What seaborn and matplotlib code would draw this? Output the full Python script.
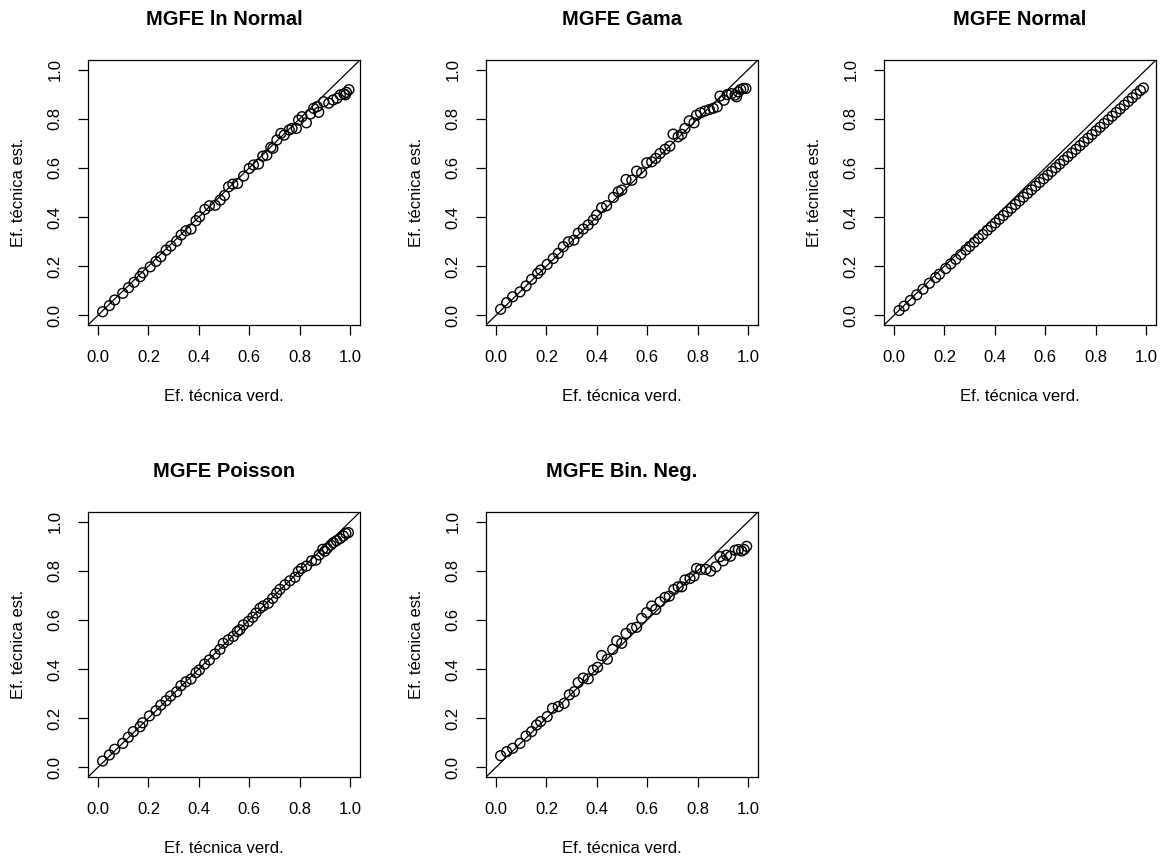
import matplotlib
matplotlib.use("Agg")
import matplotlib.pyplot as plt
import seaborn as sns
import pandas as pd

titles = ["MGFE ln Normal", "MGFE Gama", "MGFE Normal", "MGFE Poisson", "MGFE Bin. Neg."]
x_label = "Ef. técnica verd."
y_label = "Ef. técnica est."
tick_values = [0.0, 0.2, 0.4, 0.6, 0.8, 1.0]
tick_labels = ["0.0", "0.2", "0.4", "0.6", "0.8", "1.0"]

x_lnnormal = [0.018, 0.045, 0.066, 0.098, 0.121, 0.143, 0.167, 0.178, 0.207, 0.230, 0.249, 0.270,
              0.289, 0.312, 0.330, 0.349, 0.369, 0.389, 0.403, 0.424, 0.442, 0.465, 0.485, 0.502,
              0.518, 0.535, 0.554, 0.578, 0.600, 0.617, 0.637, 0.654, 0.670, 0.686, 0.694, 0.710,
              0.726, 0.739, 0.759, 0.770, 0.787, 0.796, 0.810, 0.827, 0.843, 0.856, 0.870, 0.876,
              0.896, 0.916, 0.933, 0.949, 0.962, 0.976, 0.982, 0.986, 0.996]
y_lnnormal = [0.014, 0.039, 0.062, 0.089, 0.112, 0.134, 0.157, 0.173, 0.197, 0.219, 0.238, 0.265,
              0.282, 0.302, 0.327, 0.344, 0.351, 0.385, 0.401, 0.431, 0.446, 0.448, 0.469, 0.488,
              0.523, 0.534, 0.537, 0.567, 0.598, 0.612, 0.616, 0.648, 0.652, 0.684, 0.680, 0.714,
              0.741, 0.734, 0.755, 0.761, 0.761, 0.795, 0.809, 0.784, 0.820, 0.843, 0.850, 0.827,
              0.870, 0.864, 0.877, 0.884, 0.898, 0.902, 0.898, 0.908, 0.919]

x_gama = [0.018, 0.042, 0.066, 0.095, 0.119, 0.141, 0.165, 0.177, 0.203, 0.227, 0.247, 0.267,
          0.287, 0.309, 0.326, 0.346, 0.366, 0.386, 0.399, 0.419, 0.439, 0.466, 0.485, 0.499,
          0.516, 0.539, 0.558, 0.578, 0.598, 0.618, 0.634, 0.651, 0.671, 0.690, 0.703, 0.723,
          0.737, 0.750, 0.767, 0.786, 0.796, 0.812, 0.829, 0.847, 0.862, 0.878, 0.889, 0.905,
          0.918, 0.935, 0.949, 0.955, 0.962, 0.971, 0.982, 0.992]
y_gama = [0.024, 0.051, 0.075, 0.095, 0.119, 0.146, 0.170, 0.184, 0.207, 0.231, 0.252, 0.279,
          0.299, 0.306, 0.334, 0.351, 0.368, 0.388, 0.408, 0.438, 0.446, 0.480, 0.503, 0.510,
          0.553, 0.550, 0.587, 0.580, 0.621, 0.625, 0.639, 0.659, 0.676, 0.689, 0.738, 0.727,
          0.737, 0.761, 0.792, 0.784, 0.815, 0.825, 0.832, 0.838, 0.843, 0.849, 0.893, 0.876,
          0.899, 0.903, 0.897, 0.890, 0.910, 0.920, 0.924, 0.924]

x_normal = [0.020, 0.040, 0.065, 0.090, 0.115, 0.140, 0.165, 0.180, 0.205, 0.225, 0.245, 0.265,
            0.285, 0.300, 0.318, 0.335, 0.352, 0.370, 0.386, 0.402, 0.418, 0.434, 0.450, 0.466,
            0.482, 0.498, 0.514, 0.530, 0.546, 0.562, 0.578, 0.594, 0.610, 0.626, 0.642, 0.658,
            0.674, 0.690, 0.706, 0.722, 0.738, 0.754, 0.770, 0.786, 0.802, 0.818, 0.834, 0.850,
            0.866, 0.882, 0.898, 0.914, 0.930, 0.946, 0.962, 0.978, 0.990]
y_normal = [0.019, 0.037, 0.060, 0.083, 0.106, 0.130, 0.153, 0.167, 0.190, 0.209, 0.228, 0.247,
            0.266, 0.280, 0.297, 0.313, 0.329, 0.346, 0.361, 0.376, 0.391, 0.406, 0.421, 0.436,
            0.451, 0.466, 0.481, 0.496, 0.511, 0.526, 0.541, 0.556, 0.571, 0.586, 0.601, 0.616,
            0.631, 0.646, 0.661, 0.676, 0.691, 0.706, 0.721, 0.736, 0.751, 0.766, 0.781, 0.796,
            0.811, 0.826, 0.841, 0.856, 0.871, 0.886, 0.901, 0.916, 0.926]

x_poisson = [0.018, 0.045, 0.066, 0.098, 0.120, 0.140, 0.167, 0.177, 0.204, 0.230, 0.249, 0.270,
             0.288, 0.312, 0.329, 0.349, 0.369, 0.389, 0.402, 0.423, 0.442, 0.464, 0.484, 0.497,
             0.517, 0.537, 0.553, 0.563, 0.577, 0.597, 0.614, 0.627, 0.643, 0.656, 0.676, 0.693,
             0.709, 0.722, 0.742, 0.762, 0.782, 0.795, 0.808, 0.828, 0.848, 0.865, 0.878, 0.892,
             0.900, 0.910, 0.924, 0.934, 0.947, 0.961, 0.974, 0.984, 0.994]
y_poisson = [0.025, 0.050, 0.073, 0.097, 0.122, 0.145, 0.165, 0.181, 0.209, 0.230, 0.253, 0.271,
             0.290, 0.307, 0.332, 0.348, 0.359, 0.385, 0.396, 0.420, 0.437, 0.461, 0.480, 0.505,
             0.519, 0.533, 0.553, 0.560, 0.580, 0.594, 0.611, 0.628, 0.648, 0.657, 0.668, 0.688,
             0.709, 0.725, 0.743, 0.760, 0.774, 0.797, 0.810, 0.820, 0.841, 0.844, 0.865, 0.888,
             0.880, 0.892, 0.905, 0.915, 0.923, 0.932, 0.942, 0.953, 0.956]

x_binneg = [0.018, 0.042, 0.066, 0.095, 0.119, 0.141, 0.161, 0.177, 0.203, 0.224, 0.247, 0.270,
            0.291, 0.311, 0.326, 0.346, 0.366, 0.386, 0.403, 0.419, 0.442, 0.463, 0.479, 0.499,
            0.516, 0.539, 0.558, 0.578, 0.598, 0.618, 0.634, 0.651, 0.671, 0.688, 0.706, 0.723,
            0.737, 0.750, 0.770, 0.786, 0.796, 0.812, 0.833, 0.852, 0.873, 0.889, 0.902, 0.915,
            0.931, 0.949, 0.962, 0.975, 0.985, 0.995]
y_binneg = [0.047, 0.063, 0.077, 0.097, 0.127, 0.145, 0.172, 0.186, 0.206, 0.240, 0.247, 0.260,
            0.295, 0.308, 0.345, 0.363, 0.360, 0.396, 0.407, 0.455, 0.440, 0.480, 0.515, 0.505,
            0.545, 0.566, 0.570, 0.607, 0.630, 0.657, 0.643, 0.674, 0.692, 0.697, 0.724, 0.735,
            0.735, 0.763, 0.769, 0.779, 0.810, 0.806, 0.806, 0.799, 0.817, 0.858, 0.841, 0.864,
            0.860, 0.884, 0.887, 0.881, 0.887, 0.900]

series = [(x_lnnormal, y_lnnormal), (x_gama, y_gama), (x_normal, y_normal),
          (x_poisson, y_poisson), (x_binneg, y_binneg)]

sns.set_style("ticks")
plt.rcParams["font.family"] = ["Liberation Sans", "DejaVu Sans"]
plt.rcParams["text.color"] = "black"

W, H = 1163, 859
fig = plt.figure(figsize=(W / 100, H / 100), dpi=100)
fig.patch.set_facecolor("white")

col_left = [88, 486, 884]
row_top = [60, 512]
box_w, box_h = 272, 265

for i, (title, (xs, ys)) in enumerate(zip(titles, series)):
    r, c = divmod(i, 3)
    left = col_left[c] / W
    bottom = (H - row_top[r] - box_h) / H
    ax = fig.add_axes([left, bottom, box_w / W, box_h / H])
    df = pd.DataFrame({"verd": xs, "est": ys})
    sns.scatterplot(data=df, x="verd", y="est", ax=ax, marker="o", s=50,
                    linewidth=1.0, legend=False)
    coll = ax.collections[0]
    coll.set_facecolor("none")
    coll.set_edgecolor("black")
    coll.set_linewidth(1.0)
    ax.axline((0, 0), (1, 1), color="black", lw=0.9, zorder=1)
    ax.set_xlim(-0.04, 1.04)
    ax.set_ylim(-0.04, 1.04)
    ax.set_xticks(tick_values)
    ax.set_xticklabels(tick_labels)
    ax.set_yticks(tick_values)
    ax.set_yticklabels(tick_labels, rotation=90, va="center")
    ax.tick_params(direction="out", length=7.2, width=0.9, pad=11.0,
                   labelsize=12, colors="black")
    for sp in ax.spines.values():
        sp.set_visible(True)
        sp.set_color("black")
        sp.set_linewidth(0.9)
    ax.set_facecolor("white")
    ax.set_xlabel(x_label, fontsize=12, color="black", va="center")
    ax.set_ylabel(y_label, fontsize=12, color="black", va="center")
    ax.xaxis.set_label_coords(0.5, -0.27)
    ax.yaxis.set_label_coords(-0.255, 0.5)
    ax.set_title(title, fontsize=14.5, fontweight="bold", color="black",
                 y=1.152, pad=0, va="center")

fig.savefig("out.png", dpi=100, facecolor="white")
